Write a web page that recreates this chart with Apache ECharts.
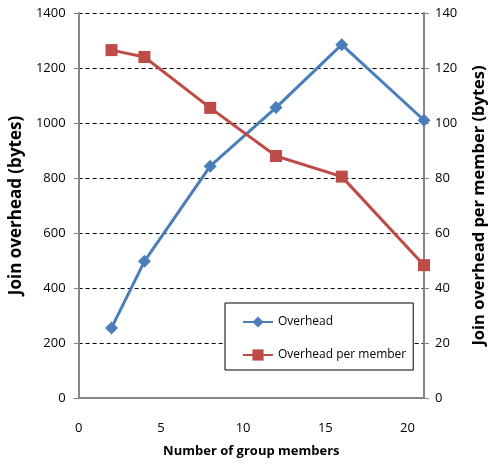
<!DOCTYPE html>
<html><head><meta charset="utf-8">
<script src="https://cdn.jsdelivr.net/npm/echarts@6/dist/echarts.min.js"></script>
<style>html,body{margin:0;padding:0;background:#fff}#c{width:496px;height:466px}</style>
</head><body><div id="c"></div>
<script>
const members = [2, 4, 8, 12, 16, 21];
const overhead = [255, 497, 843, 1056, 1285, 1010];
const perMember = [126.5, 124, 105.5, 88, 80.5, 48.3];
const seriesNames = ['Overhead', 'Overhead per member'];
const xTitle = 'Number of group members';
const yLeftTitle = 'Join overhead (bytes)';
const yRightTitle = 'Join overhead per member (bytes)';

const FONT = 'Open Sans, sans-serif';
const chart = echarts.init(document.getElementById('c'));
const axisLine = {show: true, lineStyle: {color: '#868686', width: 2}};
chart.setOption({
  animation: false,
  grid: {left: 78, right: 64, top: 13, bottom: 68},
  legend: {
    orient: 'vertical', left: 225, top: 303,
    padding: [13, 7, 9, 17], itemGap: 21, itemWidth: 30, itemHeight: 14,
    borderColor: '#000', borderWidth: 1, backgroundColor: '#fff',
    textStyle: {fontFamily: FONT, fontSize: 12, color: '#000'},
    data: seriesNames
  },
  xAxis: {
    type: 'value', min: 0, max: 21, interval: 5,
    axisLine: axisLine, axisTick: {show: false}, splitLine: {show: false},
    axisLabel: {fontFamily: FONT, fontSize: 13, color: '#000', margin: 24,
      formatter: v => (v % 5 === 0 ? String(v) : '')},
    name: xTitle, nameLocation: 'middle', nameGap: 47,
    nameTextStyle: {fontFamily: FONT, fontSize: 13, fontWeight: 'bold', color: '#000'}
  },
  yAxis: [{
    type: 'value', min: 0, max: 1400, interval: 200, position: 'left',
    axisLine: axisLine, axisTick: {show: true, length: 5, lineStyle: {color: '#868686'}},
    splitLine: {show: true, lineStyle: {color: '#000', type: [4, 3], width: 1}},
    axisLabel: {fontFamily: FONT, fontSize: 13, color: '#000', margin: 13, formatter: v => String(v)},
    name: yLeftTitle, nameLocation: 'middle', nameGap: 50, nameRotate: 90,
    nameTextStyle: {fontFamily: FONT, fontSize: 17, fontWeight: 'bold', color: '#000'}
  }, {
    type: 'value', min: 0, max: 140, interval: 20, position: 'right',
    axisLine: axisLine, axisTick: {show: true, length: 5, lineStyle: {color: '#868686'}},
    splitLine: {show: false},
    axisLabel: {fontFamily: FONT, fontSize: 13, color: '#000', margin: 11, formatter: v => String(v)},
    name: yRightTitle, nameLocation: 'middle', nameGap: 47, nameRotate: 90,
    nameTextStyle: {fontFamily: FONT, fontSize: 16.5, fontWeight: 'bold', color: '#000'}
  }],
  series: [{
    name: seriesNames[0], type: 'line', yAxisIndex: 0,
    data: members.map((m, i) => [m, overhead[i]]),
    symbol: 'diamond', symbolSize: 13,
    lineStyle: {color: '#4a7ebb', width: 3}, itemStyle: {color: '#4a7ebb'}
  }, {
    name: seriesNames[1], type: 'line', yAxisIndex: 1,
    data: members.map((m, i) => [m, perMember[i]]),
    symbol: 'rect', symbolSize: 12,
    lineStyle: {color: '#be4b48', width: 3}, itemStyle: {color: '#be4b48'}
  }]
});
</script></body></html>
